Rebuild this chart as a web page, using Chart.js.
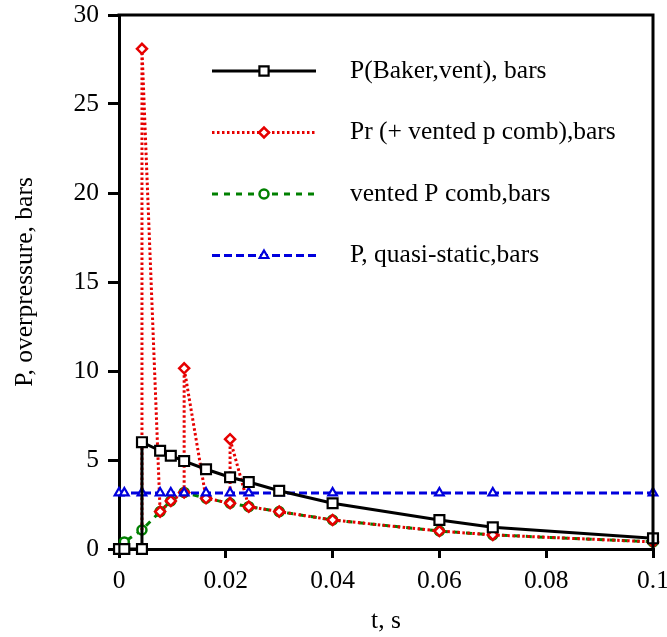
<!DOCTYPE html>
<html><head><meta charset="utf-8">
<style>html,body{margin:0;padding:0;background:#fff;}#wrap{width:667px;height:637px;position:relative;}</style>
<script src="https://cdn.jsdelivr.net/npm/chart.js@4/dist/chart.umd.min.js"></script>
</head><body><div id="wrap"><canvas id="c" width="667" height="637"></canvas></div>
<script>
const seriesNames = ['P(Baker,vent), bars', 'Pr (+ vented p comb),bars', 'vented P comb,bars', 'P, quasi-static,bars'];
const tBaker = [0, 0.001, 0.0043, 0.0043, 0.0077, 0.0097, 0.0122, 0.0163, 0.0208, 0.0243, 0.03, 0.04, 0.06, 0.07, 0.1];
const pBaker = [0, 0, 0, 6.0, 5.52, 5.24, 4.94, 4.48, 4.03, 3.76, 3.27, 2.57, 1.63, 1.22, 0.6];
const tPr = [0.0043, 0.0043, 0.0077, 0.0097, 0.0122, 0.0122, 0.0163, 0.0208, 0.0208, 0.0243, 0.03, 0.04, 0.06, 0.07, 0.1];
const pPr = [1.07, 28.1, 2.1, 2.7, 3.18, 10.15, 2.85, 2.57, 6.17, 2.38, 2.1, 1.63, 1.01, 0.79, 0.4];
const tComb = [0, 0.001, 0.0043, 0.0077, 0.0097, 0.0122, 0.0163, 0.0208, 0.0243, 0.03, 0.04, 0.06, 0.07, 0.1];
const pComb = [0, 0.4, 1.07, 2.1, 2.7, 3.18, 2.85, 2.57, 2.38, 2.1, 1.63, 1.01, 0.79, 0.4];
const tQuasi = [0, 0.001, 0.0043, 0.0077, 0.0097, 0.0122, 0.0163, 0.0208, 0.0243, 0.03, 0.04, 0.06, 0.07, 0.1];
const pQuasi = [3.15, 3.15, 3.15, 3.15, 3.15, 3.15, 3.15, 3.15, 3.15, 3.15, 3.15, 3.15, 3.15, 3.15];
const xTicks = [0, 0.02, 0.04, 0.06, 0.08, 0.1];
const yTicks = [0, 5, 10, 15, 20, 25, 30];
const xTitle = 't, s';
const yTitle = 'P, overpressure, bars';

const toXY = (ts, ps) => ts.map((t, i) => ({x: t, y: ps[i]}));
const FONT = '"Liberation Serif", "Times New Roman", serif';
Chart.defaults.font.family = FONT;
Chart.defaults.font.size = 25.5;
Chart.defaults.color = '#000';

const frame = {
  id: 'frame',
  afterDraw(chart) {
    const {ctx, chartArea: a} = chart;
    ctx.save();
    ctx.strokeStyle = '#000'; ctx.lineWidth = 3;
    ctx.beginPath();
    ctx.moveTo(a.left - 1.5, a.top); ctx.lineTo(a.right, a.top); ctx.lineTo(a.right, a.bottom + 1.5);
    ctx.stroke();
    ctx.restore();
  }
};

const legend = {
  id: 'customLegend',
  afterDraw(chart) {
    const ctx = chart.ctx;
    chart.data.datasets.forEach((ds, i) => {
      const y = 71 + i * 61.5;
      ctx.save();
      ctx.strokeStyle = ds.borderColor; ctx.lineWidth = ds.borderWidth;
      ctx.setLineDash(ds.borderDash || []);
      ctx.beginPath(); ctx.moveTo(212, y); ctx.lineTo(316, y); ctx.stroke();
      ctx.setLineDash([]);
      ctx.fillStyle = ds.pointBackgroundColor; ctx.strokeStyle = ds.pointBorderColor; ctx.lineWidth = ds.pointBorderWidth;
      Chart.helpers.drawPoint(ctx, {pointStyle: ds.pointStyle, radius: ds.legendRadius, rotation: 0, borderWidth: ds.pointBorderWidth}, 264, y);
      ctx.fillStyle = '#000'; ctx.font = '25.5px ' + FONT; ctx.textBaseline = 'middle'; ctx.textAlign = 'left';
      ctx.fillText(seriesNames[i], 350, y);
      ctx.restore();
    });
  }
};

new Chart(document.getElementById('c'), {
  type: 'line',
  data: {
    datasets: [
      {label: seriesNames[0], data: toXY(tBaker, pBaker), borderColor: '#000', borderWidth: 3,
       pointStyle: 'rect', pointRadius: 7, legendRadius: 6.5, pointBackgroundColor: '#fff', pointBorderColor: '#000', pointBorderWidth: 2.2, order: 0},
      {label: seriesNames[1], data: toXY(tPr, pPr), borderColor: '#e60000', borderWidth: 3, borderDash: [2.5, 2.5],
       pointStyle: 'rectRot', pointRadius: tPr.map((t, i) => i === 0 ? 0 : 5), legendRadius: 5, pointBackgroundColor: '#fff', pointBorderColor: '#e60000', pointBorderWidth: 2.5, order: 2},
      {label: seriesNames[2], data: toXY(tComb, pComb), borderColor: '#008000', borderWidth: 3, borderDash: [6, 6],
       pointStyle: 'circle', pointRadius: 4.5, legendRadius: 4.5, pointBackgroundColor: '#fff', pointBorderColor: '#008000', pointBorderWidth: 2.5, order: 3},
      {label: seriesNames[3], data: toXY(tQuasi, pQuasi), borderColor: '#0000dd', borderWidth: 3, borderDash: [8, 4],
       pointStyle: 'triangle', pointRadius: 5, legendRadius: 5, pointBackgroundColor: '#fff', pointBorderColor: '#0000dd', pointBorderWidth: 2.2, order: 1}
    ]
  },
  options: {
    responsive: false, animation: false,
    clip: false,
    layout: {padding: {left: 0, right: 14, top: 15, bottom: 0}},
    elements: {line: {tension: 0, fill: false}},
    plugins: {legend: {display: false}, tooltip: {enabled: false}},
    scales: {
      x: {
        type: 'linear', min: 0, max: 0.1,
        afterBuildTicks: s => { s.ticks = xTicks.map(v => ({value: v})); },
        afterFit: s => { s.height = 88; s.paddingLeft = 0; s.paddingRight = 0; },
        ticks: {padding: 8, callback: v => String(+v.toFixed(2)), maxRotation: 0},
        grid: {display: true, drawOnChartArea: false, drawTicks: true, tickLength: 9, color: '#000', lineWidth: 3},
        border: {display: true, color: '#000', width: 3},
        title: {display: true, text: xTitle, padding: {top: 0, bottom: 0}}
      },
      y: {
        type: 'linear', min: 0, max: 30,
        afterBuildTicks: s => { s.ticks = yTicks.map(v => ({value: v})); },
        afterFit: s => { s.width = 119; s.paddingTop = 0; s.paddingBottom = 0; },
        ticks: {padding: 9, callback: v => String(v)},
        grid: {display: true, drawOnChartArea: false, drawTicks: true, tickLength: 11, color: '#000', lineWidth: 3},
        border: {display: true, color: '#000', width: 3},
        title: {display: true, text: yTitle, padding: {top: 10, bottom: 0}}
      }
    }
  },
  plugins: [frame, legend]
});
</script></body></html>
